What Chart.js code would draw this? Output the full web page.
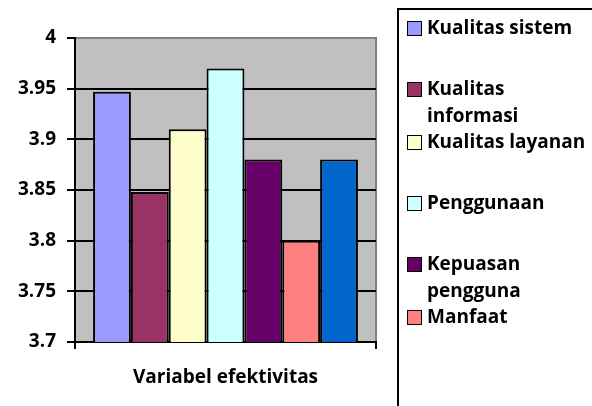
<!DOCTYPE html>
<html>
<head>
<meta charset="utf-8">
<script src="https://cdn.jsdelivr.net/npm/chart.js@4"></script>
<style>
  html, body { margin: 0; padding: 0; background: #fff; }
  #wrap { position: relative; width: 592px; height: 406px; overflow: hidden; }
  #chart_efek { position: absolute; left: 0; top: 0; }
  #legend {
    position: absolute; left: 397px; top: 8px; width: 220px; height: 420px;
    border: 2px solid #000; box-sizing: border-box; padding-top: 4px;
    font-family: "Open Sans", sans-serif; font-weight: bold; font-size: 19px; line-height: 27px; color: #000;
  }
  .item { display: flex; align-items: flex-start; margin-left: 8px; margin-bottom: 34px; white-space: pre; }
  .item.two { margin-bottom: -1px; }
  .sw { width: 13px; height: 13px; border: 1.5px solid #000; margin-top: 7px; margin-right: 5px; flex: none; }
</style>
</head>
<body>
<div id="wrap">
  <canvas id="chart_efek" width="592" height="406"></canvas>
  <div id="legend"></div>
</div>
<script>
const categories = ["Variabel efektivitas"];
const seriesNames = [
  "Kualitas sistem",
  "Kualitas informasi",
  "Kualitas layanan",
  "Penggunaan",
  "Kepuasan pengguna",
  "Manfaat",
  "",
];
const seriesValues = [3.947, 3.848, 3.91, 3.97, 3.88, 3.8, 3.88];
const yTickLabels = ["3.7", "3.75", "3.8", "3.85", "3.9", "3.95", "4"];

const colors = ["#9999ff", "#993366", "#ffffcc", "#ccffff", "#660066", "#ff8080", "#0066cc"];
const font = { family: "'Open Sans', sans-serif", weight: "bold" };

// gray plot area like the old Excel charts
const plotBg = {
  id: "plotBg",
  beforeDraw(chart) {
    const { ctx, chartArea: a } = chart;
    ctx.save();
    ctx.fillStyle = "#c0c0c0";
    ctx.fillRect(a.left, a.top, a.right - a.left, a.bottom - a.top);
    ctx.strokeStyle = "#808080";
    ctx.lineWidth = 2;
    ctx.beginPath();
    ctx.moveTo(a.left, a.top);
    ctx.lineTo(a.right, a.top);
    ctx.lineTo(a.right, a.bottom);
    ctx.stroke();
    ctx.restore();
  },
};

new Chart(document.getElementById("chart_efek"), {
  type: "bar",
  data: {
    labels: categories,
    datasets: seriesNames.map((name, i) => ({
      label: name,
      data: [seriesValues[i]],
      backgroundColor: colors[i],
      borderColor: "#000",
      borderWidth: 2,
    })),
  },
  options: {
    responsive: false,
    animation: false,
    barPercentage: 1,
    categoryPercentage: 0.88,
    layout: { padding: { top: 38, right: 216, left: 0, bottom: 0 } },
    plugins: { legend: { display: false }, tooltip: { enabled: false } },
    scales: {
      x: {
        ticks: { color: "#000", font: { ...font, size: 19 }, padding: 17 },
        grid: { offset: true, drawOnChartArea: false, tickLength: 7, color: "#000", lineWidth: 2 },
        border: { color: "#000", width: 2 },
        afterFit: (s) => { s.height = 64; },
      },
      y: {
        min: 3.7,
        max: 4,
        ticks: {
          stepSize: 0.05,
          padding: 11,
          color: "#000",
          font: { ...font, size: 19 },
          callback: (v, i) => yTickLabels[i],
        },
        grid: {
          color: (c) => (c.tick && c.tick.value > 3.99 ? "rgba(0,0,0,0)" : "#000"),
          tickColor: "#000",
          lineWidth: 2,
          tickLength: 8,
        },
        border: { color: "#000", width: 2 },
        afterFit: (s) => { s.width = 75; },
      },
    },
  },
  plugins: [plotBg],
});

// legend box on the right (Excel drops the last entry, it does not fit)
const legend = document.getElementById("legend");
seriesNames.forEach((name, i) => {
  if (!name) return;
  const item = document.createElement("div");
  item.className = "item";
  const sw = document.createElement("span");
  sw.className = "sw";
  sw.style.background = colors[i];
  const txt = document.createElement("span");
  if (name.length > 16) {
    txt.textContent = name.replace(" ", "\n");
    item.classList.add("two");
  } else {
    txt.textContent = name;
  }
  item.appendChild(sw);
  item.appendChild(txt);
  legend.appendChild(item);
});
</script>
</body>
</html>
